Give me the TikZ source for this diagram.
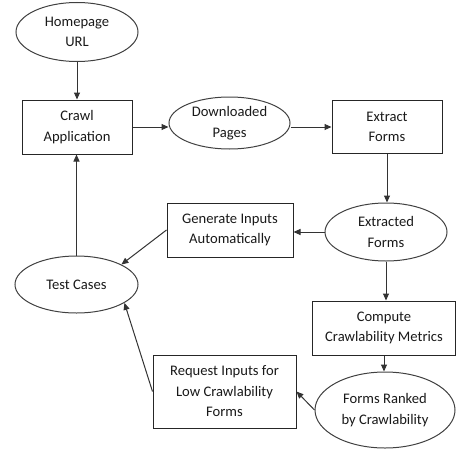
\documentclass[tikz,border=0pt]{standalone}
\usepackage{fontspec}
\setmainfont{Carlito}
\usetikzlibrary{shapes.geometric,arrows.meta}
\tikzset{
  every node/.style={font=\fontsize{14.6}{20.5}\selectfont, text=black!90, align=center, inner sep=0pt},
  oval/.style={ellipse, draw=black!75, line width=1pt},
  boxnode/.style={rectangle, draw=black!85, line width=1pt},
  flow/.style={draw=black!80, line width=1pt, -{Triangle[length=7pt,width=6pt]}}
}
\begin{document}
\begin{tikzpicture}[x=1pt,y=-1pt]
\useasboundingbox (0,0) rectangle (457,452);
% nodes
\node[oval, minimum width=122pt, minimum height=59pt] (home) at (77,32) {Homepage\\URL};
\node[boxnode, minimum width=110pt, minimum height=54pt] (crawl) at (77,127) {Crawl\\Application};
\node[oval, minimum width=121pt, minimum height=52pt] (down) at (229.5,123) {Downloaded\\Pages};
\node[boxnode, minimum width=110pt, minimum height=53pt] (extract) at (387,127) {Extract\\Forms};
\node[oval, minimum width=122pt, minimum height=58pt] (extf) at (386,232) {Extracted\\Forms};
\node[boxnode, minimum width=126pt, minimum height=54pt] (gen) at (230,230) {Generate Inputs\\Automatically};
\node[oval, minimum width=123pt, minimum height=57pt] (test) at (76.5,284.5) {Test Cases};
\node[boxnode, minimum width=143pt, minimum height=54pt] (comp) at (384,328) {Compute\\Crawlability Metrics};
\node[oval, minimum width=140pt, minimum height=76pt] (rank) at (385,410) {Forms Ranked\\by Crawlability};
\node[boxnode, minimum width=143pt, minimum height=73pt] (req) at (224.5,391.5) {Request Inputs for\\Low Crawlability\\Forms};
% connectors
\draw[flow] (home.south) -- (crawl.north);
\draw[flow] (crawl.east) -- (crawl.east -| down.west);
\draw[flow] (down.east |- extract.west) -- (extract.west);
\draw[flow] (extract.south) -- (extract.south |- extf.north);
\draw[flow] (extf.west) -- (extf.west -| gen.east);
\draw[flow] (extf.south) -- (extf.south |- comp.north);
\draw[flow] (comp.south) -- (comp.south |- rank.north);
\draw[flow] (rank.west) -- (req.east);
\draw[flow] (gen.west) -- (test.24);
\draw[flow] (req.west) -- (test.-21);
\draw[flow] (test.north) -- (test.north |- crawl.south);
\end{tikzpicture}
\end{document}
